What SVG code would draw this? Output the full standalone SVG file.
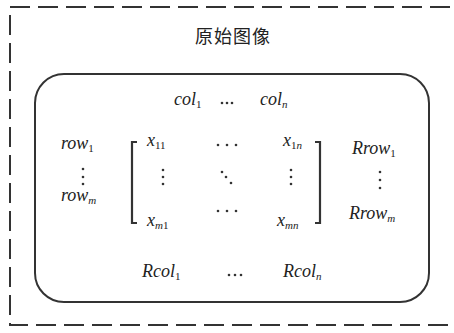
<svg xmlns="http://www.w3.org/2000/svg" width="454" height="333" viewBox="0 0 454 333">
<style>
.v{font-family:"Liberation Serif",serif;font-style:italic;font-size:18px;fill:#222}
.s{font-size:11px}
.u{font-style:normal}
.t{font-family:"Noto Sans CJK SC",sans-serif;font-size:18px;fill:#222}
.br{fill:none;stroke:#333;stroke-width:2.2}
.d{fill:#333}
</style>
<rect width="454" height="333" fill="#fff"/>
<g id="outer">
<rect x="10" y="7" width="452" height="318" fill="none" stroke="#333" stroke-width="2" stroke-dasharray="20 8"/>
<text class="t" x="233" y="43" text-anchor="middle" letter-spacing="1">原始图像</text>
</g>
<g id="inner">
<rect x="35" y="74" width="394" height="228" rx="29" ry="29" fill="none" stroke="#333" stroke-width="2"/>
</g>
<g id="cols">
<text class="v" x="174" y="105">col<tspan class="s u" dy="3">1</tspan></text>
<g class="d"><circle cx="222" cy="103" r="1.3"/><circle cx="227" cy="103" r="1.3"/><circle cx="232" cy="103" r="1.3"/></g>
<text class="v" x="260" y="105">col<tspan class="s" dy="3">n</tspan></text>
</g>
<g id="rows">
<text class="v" x="61" y="149">row<tspan class="s u" dy="3">1</tspan></text>
<g class="d"><circle cx="83" cy="169" r="1.3"/><circle cx="83" cy="177" r="1.3"/><circle cx="83" cy="184" r="1.3"/></g>
<text class="v" x="61" y="201">row<tspan class="s" dy="3">m</tspan></text>
</g>
<g id="matrix">
<path class="br" d="M137,142 H132 V223 H137"/>
<path class="br" d="M315,142 H320 V223 H315"/>
<text class="v" x="147" y="146">x<tspan class="s u" dy="3">11</tspan></text>
<text class="v" x="283" y="146">x<tspan class="s u" dy="3">1</tspan><tspan class="s">n</tspan></text>
<text class="v" x="147" y="226">x<tspan class="s" dy="3">m</tspan><tspan class="s u">1</tspan></text>
<text class="v" x="277" y="226">x<tspan class="s" dy="3">mn</tspan></text>
<g class="d">
<circle cx="218" cy="145" r="1.3"/><circle cx="227" cy="145" r="1.3"/><circle cx="236" cy="145" r="1.3"/>
<circle cx="218" cy="211" r="1.3"/><circle cx="227" cy="211" r="1.3"/><circle cx="236" cy="211" r="1.3"/>
<circle cx="163" cy="170" r="1.3"/><circle cx="163" cy="177" r="1.3"/><circle cx="163" cy="184" r="1.3"/>
<circle cx="291" cy="170" r="1.3"/><circle cx="291" cy="177" r="1.3"/><circle cx="291" cy="184" r="1.3"/>
<circle cx="222" cy="172" r="1.3"/><circle cx="226" cy="177" r="1.3"/><circle cx="231" cy="183" r="1.3"/>
</g>
</g>
<g id="rrows">
<text class="v" x="352" y="154">Rrow<tspan class="s u" dy="3">1</tspan></text>
<g class="d"><circle cx="380" cy="172" r="1.3"/><circle cx="380" cy="180" r="1.3"/><circle cx="380" cy="188" r="1.3"/></g>
<text class="v" x="349" y="219">Rrow<tspan class="s" dy="3">m</tspan></text>
</g>
<g id="rcols">
<text class="v" x="142" y="277">Rcol<tspan class="s u" dy="3">1</tspan></text>
<g class="d"><circle cx="229" cy="275" r="1.3"/><circle cx="235" cy="275" r="1.3"/><circle cx="241" cy="275" r="1.3"/></g>
<text class="v" x="283" y="277">Rcol<tspan class="s" dy="3">n</tspan></text>
</g>
</svg>
